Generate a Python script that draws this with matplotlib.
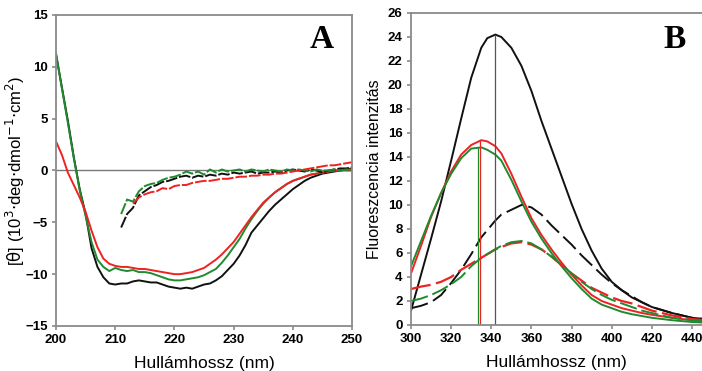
import matplotlib
matplotlib.use('Agg')
import matplotlib.pyplot as plt

plt.rcParams['font.family'] = ['Liberation Sans', 'DejaVu Sans']

BLACK = '#111111'
RED = '#ee2222'
GREEN = '#1f8a2e'
SPINE = '#8a8a8a'

# --- Panel A: CD spectra ---
cd_wl = list(range(200, 251))
cd_black = [11.2, 8.0, 4.8, 1.3, -1.8, -4.2, -7.5, -9.3, -10.3, -10.9, -11.0,
            -10.9, -10.9, -10.7, -10.6, -10.7, -10.8, -10.8, -11.0, -11.2, -11.3,
            -11.4, -11.3, -11.4, -11.2, -11.0, -10.9, -10.6, -10.2, -9.6, -9.0,
            -8.2, -7.2, -6.0, -5.3, -4.6, -3.9, -3.3, -2.8, -2.3, -1.8,
            -1.4, -1.0, -0.7, -0.5, -0.3, -0.2, -0.1, 0.0, 0.1, 0.2]
cd_green = [11.3, 7.9, 4.6, 1.2, -1.9, -4.4, -6.9, -8.6, -9.3, -9.7, -9.4,
            -9.6, -9.7, -9.6, -9.8, -9.8, -9.9, -10.1, -10.3, -10.5, -10.6,
            -10.6, -10.5, -10.4, -10.3, -10.1, -9.8, -9.5, -8.9, -8.2, -7.4,
            -6.6, -5.6, -4.7, -3.9, -3.2, -2.6, -2.1, -1.7, -1.3, -1.0,
            -0.8, -0.6, -0.4, -0.3, -0.2, -0.1, 0.0, 0.0, 0.0, 0.0]
cd_red = [2.8, 1.5, -0.2, -1.4, -2.6, -4.0, -5.8, -7.4, -8.5, -9.0, -9.2,
          -9.3, -9.3, -9.4, -9.5, -9.5, -9.6, -9.7, -9.8, -9.9, -10.0,
          -10.0, -9.9, -9.8, -9.6, -9.4, -9.0, -8.6, -8.1, -7.5, -6.9,
          -6.1, -5.3, -4.5, -3.8, -3.1, -2.6, -2.1, -1.7, -1.3, -1.0,
          -0.8, -0.6, -0.4, -0.3, -0.2, -0.1, 0.0, 0.0, 0.1, 0.1]

cdd_wl_k = list(range(211, 251))
cdd_black = [-5.5, -4.2, -3.6, -2.4, -2.0, -1.6, -1.4, -1.1, -1.0, -0.8,
             -0.6, -0.5, -0.7, -0.5, -0.6, -0.4, -0.5, -0.3, -0.4, -0.2,
             -0.3, -0.2, -0.1, -0.3, -0.2, -0.2, -0.1, -0.2, 0.0, 0.1,
             0.0, -0.1, 0.1, 0.0, -0.2, 0.0, 0.1, 0.2, 0.2, 0.3]
cdd_wl_g = list(range(211, 251))
cdd_green = [-4.2, -2.8, -3.0, -2.0, -1.5, -1.3, -1.2, -0.9, -0.7, -0.6,
             -0.4, -0.1, -0.3, -0.1, -0.4, 0.1, -0.2, 0.1, -0.1, 0.0,
             0.1, -0.1, 0.1, 0.0, -0.1, 0.1, 0.0, -0.1, 0.1, 0.0,
             0.1, 0.0, -0.1, 0.1, 0.0, 0.0, 0.1, 0.0, 0.1, 0.1]
cdd_wl_r = list(range(213, 251))
cdd_red = [-3.2, -2.6, -2.3, -2.1, -2.0, -1.7, -1.8, -1.5, -1.4, -1.4,
           -1.2, -1.1, -1.0, -1.0, -0.9, -0.8, -0.8, -0.7, -0.6, -0.6,
           -0.5, -0.5, -0.4, -0.4, -0.3, -0.3, -0.2, -0.1, 0.0, 0.1,
           0.2, 0.3, 0.4, 0.5, 0.5, 0.6, 0.7, 0.8]

# --- Panel B: fluorescence spectra ---
fl_wl = [300, 305, 310, 315, 320, 325, 330, 335, 338, 342, 345, 350, 355, 360,
         365, 370, 375, 380, 385, 390, 395, 400, 405, 410, 415, 420, 430, 440,
         446]
fl_black = [1.2, 4.2, 7.2, 10.3, 13.7, 17.2, 20.6, 23.1, 23.9, 24.2, 24.0,
            23.1, 21.6, 19.5, 17.0, 14.7, 12.4, 10.1, 8.0, 6.2, 4.7, 3.6,
            2.9, 2.3, 1.9, 1.5, 1.0, 0.6, 0.5]
fl_red = [4.3, 6.6, 9.0, 11.0, 12.8, 14.2, 15.0, 15.4, 15.3, 14.9, 14.3,
          12.6, 10.7, 8.9, 7.5, 6.3, 5.2, 4.2, 3.3, 2.5, 2.0, 1.7,
          1.4, 1.2, 1.0, 0.85, 0.6, 0.4, 0.35]
fl_green = [4.9, 7.0, 9.1, 11.0, 12.6, 13.9, 14.7, 14.8, 14.6, 14.2, 13.7,
            12.1, 10.3, 8.6, 7.2, 6.0, 4.9, 3.9, 3.0, 2.2, 1.7, 1.4,
            1.1, 0.9, 0.75, 0.6, 0.4, 0.25, 0.2]
fl_black_d = [1.4, 1.6, 1.9, 2.5, 3.5, 4.6, 5.9, 7.3, 7.9, 8.7, 9.2,
              9.6, 10.0, 9.8, 9.2, 8.3, 7.5, 6.7, 5.8, 5.0, 4.2, 3.5,
              2.9, 2.4, 1.9, 1.5, 1.0, 0.6, 0.5]
fl_red_d = [3.0, 3.2, 3.35, 3.6, 4.0, 4.6, 5.1, 5.6, 5.9, 6.3, 6.5,
            6.8, 6.9, 6.7, 6.3, 5.7, 5.0, 4.3, 3.7, 3.1, 2.7, 2.3,
            2.0, 1.8, 1.5, 1.2, 0.8, 0.5, 0.4]
fl_green_d = [2.0, 2.2, 2.5, 2.9, 3.4, 4.0, 4.9, 5.6, 5.9, 6.3, 6.6,
              6.9, 7.0, 6.8, 6.3, 5.7, 5.0, 4.3, 3.6, 3.0, 2.5, 2.1,
              1.8, 1.5, 1.2, 1.0, 0.6, 0.4, 0.3]
peak_wl = [333.3, 334.2, 341.8]
peak_val = [14.85, 15.4, 24.2]
peak_col = [GREEN, RED, '#555555']


def style_axes(ax):
    for s in ax.spines.values():
        s.set_color(SPINE)
        s.set_linewidth(1.3)
    ax.tick_params(direction='out', length=3, width=1.2, color=SPINE,
                   labelsize=9.5, pad=3)
    for lab in ax.get_xticklabels() + ax.get_yticklabels():
        lab.set_fontweight('bold')


fig = plt.figure(figsize=(7.02, 3.71), dpi=100)

axA = fig.add_axes([0.0798, 0.1213, 0.4217, 0.8383])
axA.axhline(0, color='#777777', lw=1.0)
axA.plot(cd_wl, cd_black, color=BLACK, lw=1.4)
axA.plot(cd_wl, cd_green, color=GREEN, lw=1.4)
axA.plot(cd_wl, cd_red, color=RED, lw=1.4)
axA.plot(cdd_wl_k, cdd_black, color=BLACK, lw=1.4, dashes=(6, 1))
axA.plot(cdd_wl_g, cdd_green, color=GREEN, lw=1.4, dashes=(6, 1))
axA.plot(cdd_wl_r, cdd_red, color=RED, lw=1.4, dashes=(6, 1))
axA.set_xlim(200, 250)
axA.set_ylim(-15, 15)
axA.set_xticks(range(200, 251, 10))
axA.set_yticks(range(-15, 16, 5))
axA.set_xlabel('Hullámhossz (nm)', fontsize=12.5, labelpad=7)
axA.set_ylabel(r'[$\mathrm{\theta}$] (10$^3$$\cdot$deg$\cdot$dmol$^{-1}$$\cdot$cm$^2$)',
               fontsize=12, labelpad=-1)
style_axes(axA)
axA.text(322, 331, 'A', transform=None, fontsize=24, fontweight='bold',
         family='Liberation Serif', ha='center', va='center')

axB = fig.add_axes([0.5855, 0.124, 0.4145, 0.841])
axB.plot(fl_wl, fl_black, color=BLACK, lw=1.4)
axB.plot(fl_wl, fl_red, color=RED, lw=1.4)
axB.plot(fl_wl, fl_green, color=GREEN, lw=1.4)
axB.plot(fl_wl, fl_black_d, color=BLACK, lw=1.4, dashes=(9, 3))
axB.plot(fl_wl, fl_red_d, color=RED, lw=1.6, dashes=(9, 2.5))
axB.plot(fl_wl, fl_green_d, color=GREEN, lw=1.4, dashes=(9, 2.5))
axB.vlines(peak_wl, 0, peak_val, colors=peak_col, lw=0.9)
axB.set_xlim(300, 445)
axB.set_ylim(0, 26)
axB.set_xticks(range(300, 441, 20))
axB.set_yticks(range(0, 27, 2))
axB.set_xlabel('Hullámhossz (nm)', fontsize=12.5, labelpad=7)
axB.set_ylabel('Fluoreszcencia intenzitás', fontsize=11.5, labelpad=4)
style_axes(axB)
axB.spines['right'].set_visible(False)
fig.text(675, 331, 'B', transform=None, fontsize=24, fontweight='bold',
         family='Liberation Serif', ha='center', va='center')

fig.savefig('out.png', dpi=100)
